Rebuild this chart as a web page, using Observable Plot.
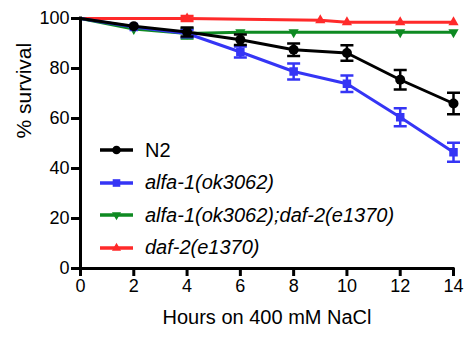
<!DOCTYPE html>
<html>
<head>
<meta charset="utf-8">
<script src="https://cdn.jsdelivr.net/npm/d3@7"></script>
<script src="https://cdn.jsdelivr.net/npm/@observablehq/plot@0.6"></script>
<style>
  html, body { margin: 0; padding: 0; background: #fff; }
  #wrap { position: relative; width: 466px; height: 337px; font-family: "Liberation Sans", Arial, sans-serif; }
  #legend { position: absolute; left: 100px; top: 134px; }
  .row { display: flex; align-items: center; height: 32.5px; font-size: 20px; color: #000; }
  .row svg { margin-right: 11px; }
  .it { font-style: italic; }
</style>
</head>
<body>
<div id="wrap"><div id="legend"></div></div>
<script>
// ---- data ----
const seriesNames = ["N2", "alfa-1(ok3062)", "alfa-1(ok3062);daf-2(e1370)", "daf-2(e1370)"];
const seriesColors = ["#000000", "#3535f5", "#0e8a22", "#ff2a2a"];
const seriesSymbols = ["circle", "square", "triangle-down", "triangle"];

const hoursN2 = [0, 2, 4, 6, 8, 10, 12, 14];
const survN2 = [100, 96.9, 94.6, 91.5, 87.5, 86.2, 75.5, 66];
const errN2 = [0, 0, 1.8, 2.1, 2.5, 3.1, 3.9, 4.3];

const hoursAlfa = [0, 2, 4, 6, 8, 10, 12, 14];
const survAlfa = [100, 96.6, 94, 86.6, 78.8, 73.9, 60.5, 46.5];
const errAlfa = [0, 0, 1.5, 2.2, 3.2, 3.3, 3.6, 3.8];

const hoursDouble = [0, 2, 4, 6, 8, 12, 14];
const survDouble = [100, 95.8, 94, 94.5, 94.5, 94.5, 94.5];
const errDouble = [0, 0, 2, 0, 0, 0, 0];

const hoursDaf = [0, 4, 9, 10, 12, 14];
const survDaf = [100, 100, 99.3, 98.5, 98.5, 98.5];
const errDaf = [0, 1, 0, 0, 0, 0];

const xTicks = [0, 2, 4, 6, 8, 10, 12, 14];
const yTicks = [0, 20, 40, 60, 80, 100];
const xTitle = "Hours on 400 mM NaCl";
const yTitle = "% survival";

// ---- build table ----
const seriesData = [
  {name: seriesNames[0], hours: hoursN2, surv: survN2, err: errN2},
  {name: seriesNames[1], hours: hoursAlfa, surv: survAlfa, err: errAlfa},
  {name: seriesNames[2], hours: hoursDouble, surv: survDouble, err: errDouble},
  {name: seriesNames[3], hours: hoursDaf, surv: survDaf, err: errDaf}
];
const rows = seriesData.flatMap(s => s.hours.map((h, i) => ({series: s.name, hour: h, value: s.surv[i], err: s.err[i]})));

const capSymbol = { draw(ctx) { ctx.moveTo(-6.5, 0); ctx.lineTo(6.5, 0); } };
const symbolFor = {circle: "circle", square: "square", "triangle-down": "triangle", triangle: "triangle"};
const radiusFor = {circle: 5, square: 4.8, "triangle-down": 3.8, triangle: 3.8};

const drawOrder = [3, 2, 1, 0];
const seriesMarks = drawOrder.flatMap(k => {
  const name = seriesNames[k];
  const color = seriesColors[k];
  const sym = seriesSymbols[k];
  const d = rows.filter(r => r.series === name);
  const e = d.filter(r => r.err > 0);
  const shown = d.filter(r => r.hour > 0);
  return [
    Plot.line(d, {x: "hour", y: "value", stroke: color, strokeWidth: 3}),
    Plot.ruleX(e, {x: "hour", y1: r => r.value - r.err, y2: r => r.value + r.err, stroke: color, strokeWidth: 2.5}),
    Plot.dot(e, {x: "hour", y: r => r.value - r.err, symbol: capSymbol, stroke: color, strokeWidth: 2.5, fill: "none", r: 3}),
    Plot.dot(e, {x: "hour", y: r => r.value + r.err, symbol: capSymbol, stroke: color, strokeWidth: 2.5, fill: "none", r: 3}),
    Plot.dot(shown, {x: "hour", y: "value", symbol: symbolFor[sym], r: radiusFor[sym], fill: color, stroke: "none", rotate: sym === "triangle-down" ? 180 : 0})
  ];
});

const chart = Plot.plot({
  width: 466,
  height: 337,
  marginLeft: 80,
  marginRight: 13,
  marginTop: 18,
  marginBottom: 69,
  x: {domain: [0, 14]},
  y: {domain: [0, 100]},
  style: {fontFamily: "'Liberation Sans', Arial, sans-serif", fontSize: "18px", color: "#000", background: "#fff"},
  marks: [
    ...seriesMarks,
    Plot.ruleX([0], {strokeWidth: 3, strokeLinecap: "square"}),
    Plot.ruleY([0], {strokeWidth: 3, strokeLinecap: "square"}),
    Plot.axisY({ticks: yTicks, tickSize: 9, tickPadding: 2, strokeWidth: 3, label: null, fontSize: 18, fill: "#000"}),
    Plot.axisX({ticks: xTicks, tickSize: 8, tickPadding: 3, strokeWidth: 3, label: null, fontSize: 18, fill: "#000"}),
    Plot.text([xTitle], {frameAnchor: "bottom", dy: 55, fontSize: 20, fill: "#000"}),
    Plot.text([yTitle], {frameAnchor: "left", dx: -56, dy: -5, rotate: -90, fontSize: 21, fill: "#000"})
  ]
});
document.getElementById("wrap").prepend(chart);

// ---- legend ----
const legend = document.getElementById("legend");
seriesNames.forEach((name, k) => {
  const row = document.createElement("div");
  row.className = "row";
  const color = seriesColors[k];
  const sym = seriesSymbols[k];
  const symPath = d3.symbol(sym === "circle" ? d3.symbolCircle : sym === "square" ? d3.symbolSquare : d3.symbolTriangle,
    Math.PI * radiusFor[sym] * radiusFor[sym] * (sym === "circle" ? 0.75 : 0.8))();
  row.innerHTML = `<svg width="34" height="20"><line x1="0" x2="33" y1="10" y2="10" stroke="${color}" stroke-width="3.5"/>` +
    `<path d="${symPath}" fill="${color}" transform="translate(16.5,10)${sym === "triangle-down" ? " rotate(180)" : ""}"/></svg>` +
    `<span class="${k === 0 ? "" : "it"}">${name}</span>`;
  legend.appendChild(row);
});
</script>
</body>
</html>
